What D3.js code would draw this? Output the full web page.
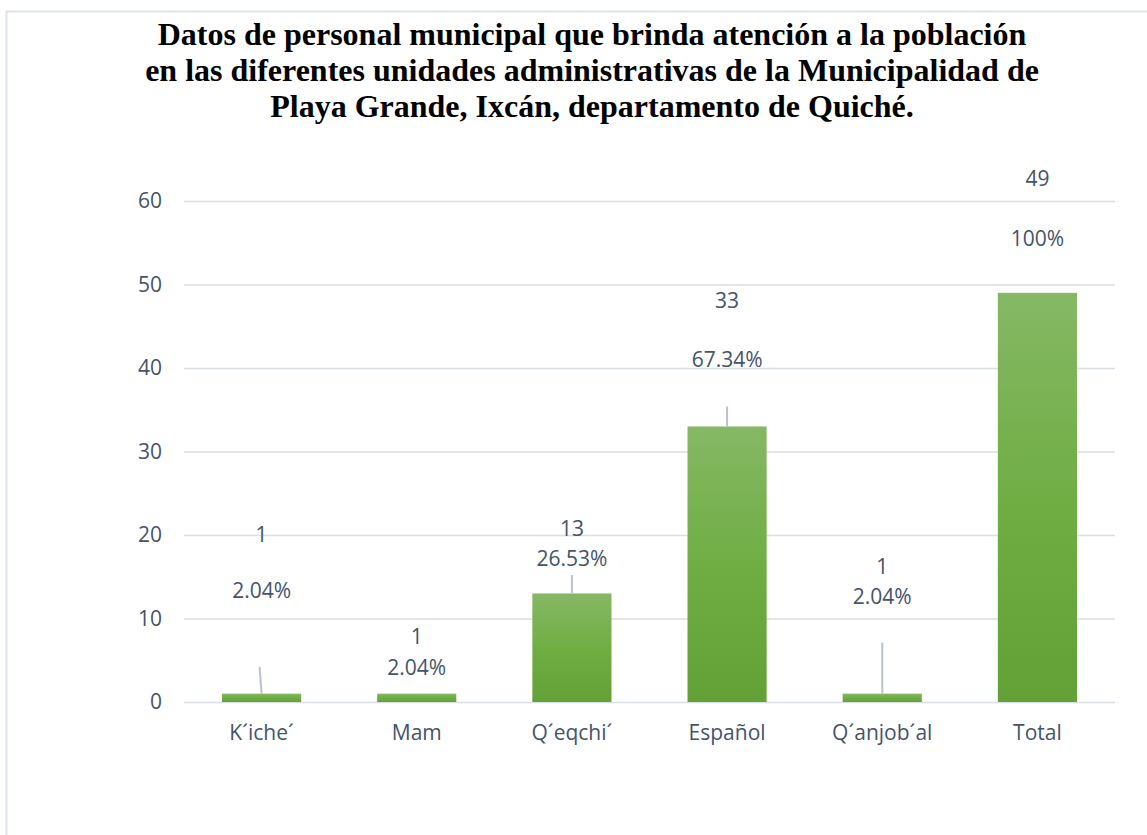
<!DOCTYPE html>
<html>
<head>
<meta charset="utf-8">
<script src="https://cdn.jsdelivr.net/npm/d3@7"></script>
<style>
  body { margin: 0; background: #fff; }
  svg { display: block; }
</style>
</head>
<body>
<svg id="chart"></svg>
<script>
// data
const categories = ["K´iche´", "Mam", "Q´eqchi´", "Español", "Q´anjob´al", "Total"];
const values = [1, 1, 13, 33, 1, 49];
const percents = ["2.04%", "2.04%", "26.53%", "67.34%", "2.04%", "100%"];
const yTicks = [0, 10, 20, 30, 40, 50, 60];
const titleLines = [
    "Datos de personal municipal que brinda atención a la población",
    "en las diferentes unidades administrativas de la Municipalidad de",
    "Playa Grande, Ixcán, departamento de Quiché."
];

// where Excel put each label (in axis units): top line, bottom line, leader line start
const labelTop = [20, 7.8, 20.8, 48.1, 16.2, 62.7];
const labelBottom = [13.3, 4.1, 17.2, 41.0, 12.6, 55.5];
const leaderTop = [4.2, null, 15.2, 35.4, 7.1, null];

const config = {
    width: 1147,
    height: 835,
    margin: {top: 201, right: 32, bottom: 133, left: 184}
};

const svg = d3.select("#chart")
    .attr("width", config.width)
    .attr("height", config.height);

// light border of the chart area
svg.append("path")
    .attr("d", `M6.5,${config.height} V11.5 H${config.width}`)
    .attr("fill", "none")
    .attr("stroke", "#dde3ea")
    .attr("stroke-width", 2);

// title
svg.append("text")
    .attr("x", 592)
    .attr("y", 45)
    .attr("text-anchor", "middle")
    .attr("font-family", "'Liberation Serif', 'Times New Roman', serif")
    .attr("font-weight", "bold")
    .attr("font-size", "32px")
    .attr("fill", "#000")
    .selectAll("tspan")
    .data(titleLines)
    .join("tspan")
    .attr("x", 592)
    .attr("dy", (d, i) => i === 0 ? 0 : 36)
    .text(d => d);

const innerW = config.width - config.margin.left - config.margin.right;
const innerH = config.height - config.margin.top - config.margin.bottom;

const xScale = d3.scaleBand()
    .domain(categories)
    .range([config.margin.left, config.margin.left + innerW])
    .paddingInner(0.49)
    .paddingOuter(0.245);

const yScale = d3.scaleLinear()
    .domain([0, 60])
    .range([config.margin.top + innerH, config.margin.top]);

// gradient for bars
const grad = svg.append("defs")
    .append("linearGradient")
    .attr("id", "bar-grad")
    .attr("x1", 0).attr("y1", 0).attr("x2", 0).attr("y2", 1);
grad.append("stop").attr("offset", "0%").attr("stop-color", "#85b864");
grad.append("stop").attr("offset", "50%").attr("stop-color", "#70ae44");
grad.append("stop").attr("offset", "100%").attr("stop-color", "#62a135");

const font = "'Open Sans', 'Noto Sans', sans-serif";
const textColor = "#44546a";
const fontSize = "21px";

// gridlines + y axis
const yAxis = svg.append("g")
    .attr("transform", `translate(${config.margin.left},0)`)
    .call(d3.axisLeft(yScale).tickValues(yTicks).tickSize(-innerW).tickPadding(22));
yAxis.select(".domain").remove();
yAxis.selectAll(".tick line")
    .attr("stroke", "#d9dee4")
    .attr("stroke-width", 1.5);
yAxis.selectAll(".tick text")
    .attr("fill", textColor)
    .attr("font-family", font)
    .attr("font-size", fontSize);

// x axis labels
const xAxis = svg.append("g")
    .attr("transform", `translate(0,${config.margin.top + innerH})`)
    .call(d3.axisBottom(xScale).tickSize(0).tickPadding(23));
xAxis.select(".domain").remove();
xAxis.selectAll(".tick text")
    .attr("fill", textColor)
    .attr("font-family", font)
    .attr("font-size", fontSize);

// bars
svg.append("g")
    .selectAll("rect")
    .data(values)
    .join("rect")
    .attr("x", (d, i) => xScale(categories[i]))
    .attr("y", d => yScale(d))
    .attr("width", xScale.bandwidth())
    .attr("height", d => yScale(0) - yScale(d))
    .attr("fill", "url(#bar-grad)");

// leader lines
svg.append("g")
    .selectAll("line")
    .data(values.map((v, i) => ({v, i})).filter(d => leaderTop[d.i] !== null))
    .join("line")
    .attr("x1", d => xScale(categories[d.i]) + xScale.bandwidth() / 2 - (d.i === 0 ? 2 : 0))
    .attr("x2", d => xScale(categories[d.i]) + xScale.bandwidth() / 2)
    .attr("y1", d => yScale(leaderTop[d.i]))
    .attr("y2", d => yScale(d.v))
    .attr("stroke", "#b8c2ce")
    .attr("stroke-width", 2);

// data labels
const labels = svg.append("g")
    .attr("font-family", font)
    .attr("font-size", fontSize)
    .attr("fill", textColor)
    .attr("text-anchor", "middle");

labels.selectAll("text.val")
    .data(values)
    .join("text")
    .attr("class", "val")
    .attr("x", (d, i) => xScale(categories[i]) + xScale.bandwidth() / 2)
    .attr("y", (d, i) => yScale(labelTop[i]))
    .attr("dy", "0.35em")
    .text(d => d);

labels.selectAll("text.pct")
    .data(percents)
    .join("text")
    .attr("class", "pct")
    .attr("x", (d, i) => xScale(categories[i]) + xScale.bandwidth() / 2)
    .attr("y", (d, i) => yScale(labelBottom[i]))
    .attr("dy", "0.35em")
    .text(d => d);
</script>
</body>
</html>
